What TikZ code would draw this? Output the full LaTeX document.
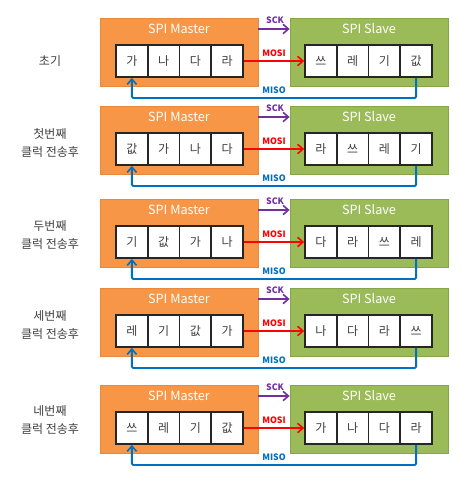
\documentclass[tikz,border=0pt]{standalone}
\usepackage{fontspec}
\setmainfont{Noto Sans CJK KR}
\usetikzlibrary{arrows.meta,calc}
\definecolor{mfill}{HTML}{F79646}
\definecolor{mdraw}{HTML}{E8893E}
\definecolor{sfill}{HTML}{9BBB59}
\definecolor{sdraw}{HTML}{86A448}
\definecolor{sckc}{HTML}{7030A0}
\definecolor{mosic}{HTML}{FF0000}
\definecolor{misoc}{HTML}{0070C0}
\definecolor{txt}{HTML}{404040}
\tikzset{
  mbox/.style={draw=mdraw, fill=mfill, line width=0.6pt, minimum width=118.5pt, minimum height=51pt, inner sep=0pt},
  sbox/.style={draw=sdraw, fill=sfill, line width=0.6pt, minimum width=118.5pt, minimum height=51pt, inner sep=0pt},
  cell/.style={draw=black!85, fill=white, line width=1.3pt, minimum width=23.8pt, minimum height=24pt, inner sep=0pt, font=\fontsize{9pt}{10pt}\selectfont, text=txt},
  title/.style={text=white, font=\fontsize{9.5pt}{10pt}\selectfont, inner sep=0pt},
  rowlab/.style={text=txt, align=center, font=\fontsize{9pt}{13.5pt}\selectfont, inner sep=0pt},
  siglab/.style={font=\bfseries\fontsize{6.6pt}{7pt}\selectfont, inner sep=0pt},
  wire/.style={line width=1.4pt, -{Straight Barb[length=4pt,width=7pt,line width=1.2pt]}},
}
\begin{document}
\begin{tikzpicture}[x=0.75pt,y=-0.75pt]
\useasboundingbox[fill=white] (0,0) rectangle (461,477);
\foreach \r/\t/\ly/\lab/\ma/\mb/\mc/\md/\sa/\sb/\sc/\sd in {
  1/18/61/{초기}/가/나/다/라/쓰/레/기/값,
  2/106/143/{첫번째\\클럭 전송후}/값/가/나/다/라/쓰/레/기,
  3/199/235/{두번째\\클럭 전송후}/기/값/가/나/다/라/쓰/레,
  4/288/325/{세번째\\클럭 전송후}/레/기/값/가/나/다/라/쓰,
  5/385/420/{네번째\\클럭 전송후}/쓰/레/기/값/가/나/다/라}
{
  \node[rowlab] (lab\r) at (50,\ly) {\lab};
  \node[mbox] (m\r) at (179,\t+34) {};
  \node[sbox] (s\r) at (369,\t+34) {};
  \node[title] (mt\r) at (179,\t+11) {SPI Master};
  \node[title] (st\r) at (369,\t+11) {SPI Slave};
  \foreach \i/\x in {1/\ma,2/\mb,3/\mc,4/\md}
    \node[cell] (mc\r-\i) at (116+15.875+31.75*\i-31.75,\t+43) {\x};
  \foreach \i/\x in {1/\sa,2/\sb,3/\sc,4/\sd}
    \node[cell] (sc\r-\i) at (305+15.875+31.75*\i-31.75,\t+43) {\x};
  % SCK
  \coordinate (ck\r) at (m\r.east |- mt\r);
  \draw[wire, sckc] (ck\r) -- (ck\r -| s\r.west);
  \node[siglab, text=sckc] (ckl\r) at (275,\t+2) {SCK};
  % MOSI
  \draw[wire, mosic] (mc\r-4.east) -- (sc\r-1.west);
  \node[siglab, text=mosic] (mol\r) at (274,\t+35) {MOSI};
  % MISO
  \coordinate (mi\r) at (275,\t+80);
  \draw[wire, misoc, rounded corners=1pt] (sc\r-4.south) |- (mi\r) -| (mc\r-1.south);
  \node[siglab, text=misoc] (mil\r) at (274,\t+72) {MISO};
}
\end{tikzpicture}
\end{document}
